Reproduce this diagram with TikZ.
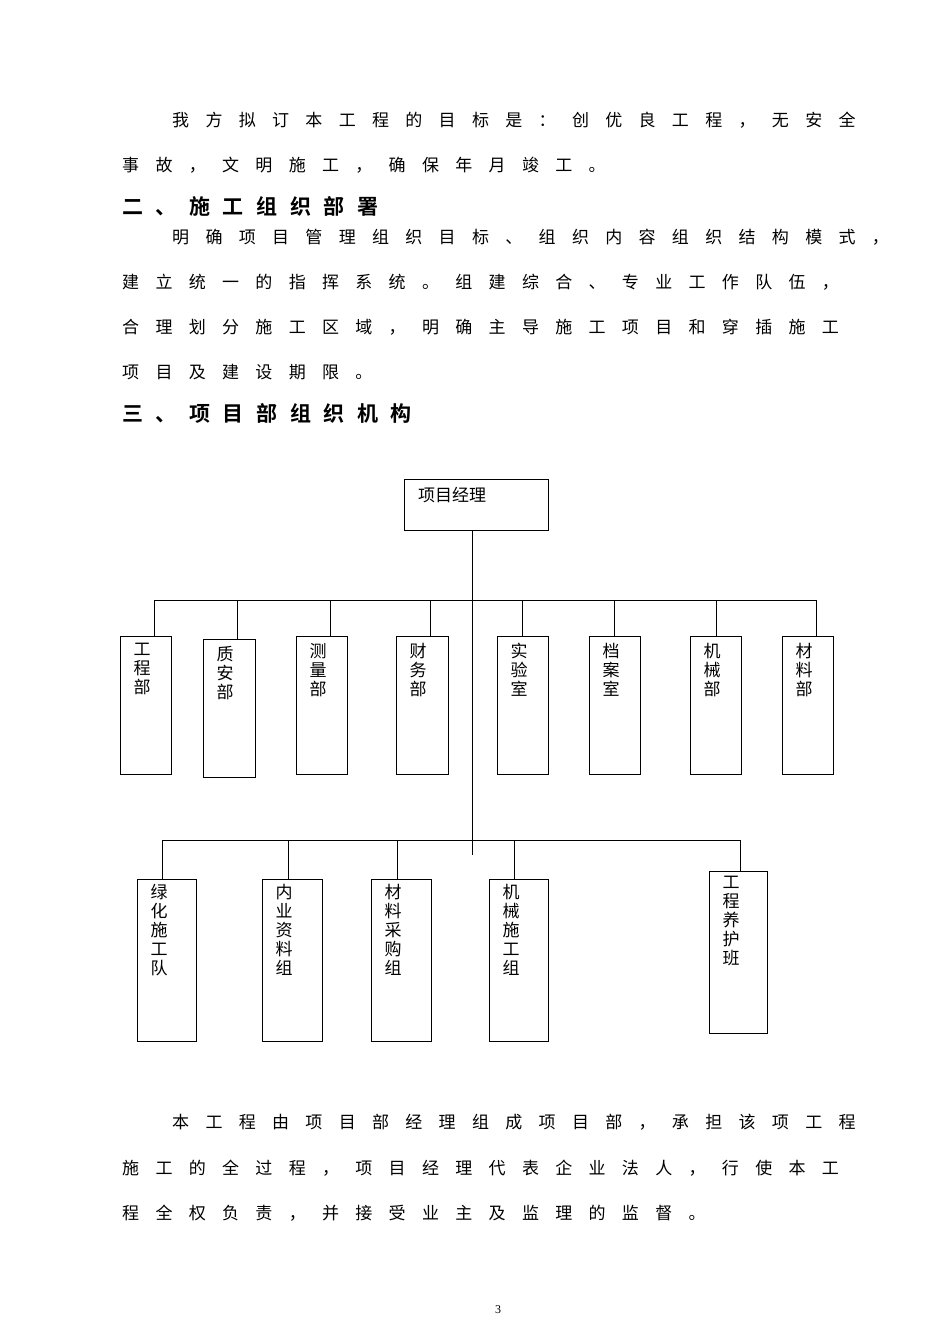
\documentclass[tikz,border=0pt]{standalone}
\usepackage{fontspec}
\newfontfamily\cjk{Noto Sans CJK SC}
\newfontfamily\cjks[LetterSpace=96]{Noto Sans CJK SC}
\newfontfamily\cjkh[LetterSpace=60]{Noto Sans CJK SC Bold}
\setmainfont{Liberation Serif}
\begin{document}
\begin{tikzpicture}[x=1pt,y=-1pt,
  para/.style={anchor=west,inner sep=0pt,font=\cjks\fontsize{17}{17}\selectfont},
  head/.style={anchor=west,inner sep=0pt,font=\cjkh\fontsize{21}{21}\selectfont},
  box/.style={draw,line width=0.8pt},
  vt/.style={anchor=north,inner sep=0pt,align=center,font=\cjk\fontsize{17}{19}\selectfont},
  ln/.style={line width=0.8pt}]
\useasboundingbox (0,0) rectangle (950,1344);
\node[para] (p1) at (172,120) {我方拟订本工程的目标是：创优良工程，无安全};
\node[para] (p2) at (122,165) {事故，文明施工，确保年月竣工。};
\node[head] (h2) at (122,206) {二、施工组织部署};
\node[para] (p3) at (172,237) {明确项目管理组织目标、组织内容组织结构模式，};
\node[para] (p4) at (122,282) {建立统一的指挥系统。组建综合、专业工作队伍，};
\node[para] (p5) at (122,327) {合理划分施工区域，明确主导施工项目和穿插施工};
\node[para] (p6) at (122,372) {项目及建设期限。};
\node[head] (h3) at (122,413) {三、项目部组织机构};
% chart
\draw[box] (404,479) rectangle (548,530);
\node[anchor=west,inner sep=0pt,font=\cjk\fontsize{17}{17}\selectfont] (pm) at (418,495) {项目经理};
\coordinate (t) at (472,530);
\coordinate (b) at (472,855);
\draw[ln] (t) -- (b);
\draw[ln] (154,600) -- (816,600);
\foreach \l/\r/\tp/\bt/\dx/\txt in {
 120/171/636/774/154/{工\\程\\部},
 203/255/639/777/237/{质\\安\\部},
 296/347/636/774/330/{测\\量\\部},
 396/448/636/774/430/{财\\务\\部},
 497/548/636/774/522/{实\\验\\室},
 589/640/636/774/614/{档\\案\\室},
 690/741/636/774/716/{机\\械\\部},
 782/833/636/774/816/{材\\料\\部}}{
 \draw[ln] (\dx,600) -- (\dx,\tp);
 \draw[box] (\l,\tp) rectangle (\r,\bt);
 \node[vt] at (\l+22,\tp+7) {\txt};
}
\draw[ln] (162,840) -- (740,840);
\foreach \l/\r/\tp/\bt/\dx/\txt in {
 137/196/879/1041/162/{绿\\化\\施\\工\\队},
 262/322/879/1041/288/{内\\业\\资\\料\\组},
 371/431/879/1041/397/{材\\料\\采\\购\\组},
 489/548/879/1041/514/{机\\械\\施\\工\\组},
 709/767/871/1033/740/{工\\程\\养\\护\\班}}{
 \draw[ln] (\dx,840) -- (\dx,\tp);
 \draw[box] (\l,\tp) rectangle (\r,\bt);
 \node[vt] at (\l+22,\tp+5) {\txt};
}
\node[para] (p7) at (172,1122) {本工程由项目部经理组成项目部，承担该项工程};
\node[para] (p8) at (122,1168) {施工的全过程，项目经理代表企业法人，行使本工};
\node[para] (p9) at (122,1213) {程全权负责，并接受业主及监理的监督。};
\node[font=\fontsize{12}{12}\selectfont] (pg) at (498,1310) {3};
\end{tikzpicture}
\end{document}
